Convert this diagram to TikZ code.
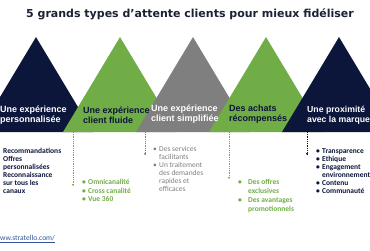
\documentclass[tikz,border=0pt]{standalone}
\usepackage{fontspec}
\setmainfont{Carlito}
\newfontfamily\labfont{Liberation Sans}
\newfontfamily\titlefont{DejaVu Sans}
\usetikzlibrary{arrows.meta}
\definecolor{navy}{HTML}{0B163A}
\definecolor{leaf}{HTML}{70AD47}
\definecolor{slate}{HTML}{7F7F7F}
\definecolor{linkblue}{HTML}{2F5597}
\definecolor{titlecol}{HTML}{1B2233}
\newcommand\bl[1][6pt]{\makebox[#1][l]{\textbullet}}
\begin{document}
\begin{tikzpicture}[x=1pt,y=-1pt,
  lab/.style={font=\labfont\bfseries\fontsize{9}{10}\selectfont, align=left, inner sep=0pt, anchor=west},
  lst/.style={font=\fontsize{7.5}{8}\selectfont, align=left, inner sep=0pt, anchor=north west},
  conn/.style={dash pattern=on 0.8pt off 1pt, line width=0.7pt, -{Stealth[length=2.2pt,width=2.4pt]}}]
\useasboundingbox (0,0) rectangle (370,250);
\clip (0,0) rectangle (370,250);
% triangles
\fill[navy]  (36,37)  -- (93,132)  -- (-21,132) -- cycle;
\fill[leaf]  (120,37) -- (177,132) -- (63,132)  -- cycle;
\fill[slate] (193,37) -- (250,132) -- (136,132) -- cycle;
\fill[leaf]  (266,37) -- (323,132) -- (209,132) -- cycle;
\fill[navy]  (339,37) -- (396,132) -- (282,132) -- cycle;
% title
\node[font=\titlefont\bfseries\fontsize{11}{13}\selectfont, text=titlecol, inner sep=0pt] (title) at (190,14) {5 grands types d’attente clients pour mieux fidéliser};
% triangle labels
\node[lab, text=white] (l1) at (0,115) {Une expérience\\personnalisée};
\node[lab, text=navy]  (l2) at (83,115) {Une expérience\\client fluide};
\node[lab, text=white] (l3) at (151,114.5) {Une expérience\\client simplifiée};
\node[lab, text=navy]  (l4) at (229,114) {Des achats\\récompensés};
\node[lab, text=white, font=\labfont\bfseries\fontsize{8.7}{10}\selectfont] (l5) at (307,115.5) {Une proximité\\avec la marque};
% lists
\node[lst, text=navy, font=\bfseries\fontsize{7.5}{8}\selectfont] (d1) at (3,148.5)
  {Recommandations\\Offres\\personnalisées\\Reconnaissance\\sur tous les\\canaux};
\node[lst, text=leaf, font=\bfseries\fontsize{7.5}{8.5}\selectfont] (d2) at (82,179.5)
  {\bl Omnicanalité\\\bl Cross canalité\\\bl Vue 360};
\node[lst, text=slate] (d3) at (153,146.5)
  {\bl Des services\\\hphantom{\bl}facilitants\\\bl Un traitement\\\hphantom{\bl}des demandes\\\hphantom{\bl}rapides et\\\hphantom{\bl}efficaces};
\node[lst, text=leaf, font=\bfseries\fontsize{7.5}{8.7}\selectfont] (d4) at (238,179.5)
  {\bl[10pt]Des offres\\\hphantom{\bl[10pt]}exclusives\\\bl[10pt]Des avantages\\\hphantom{\bl[10pt]}promotionnels};
\node[lst, text=navy, font=\bfseries\fontsize{7.5}{8}\selectfont] (d5) at (316,148.5)
  {\bl Transparence\\\bl Ethique\\\bl Engagement\\\hphantom{\bl}environnement\\\bl Contenu\\\bl Communauté};
% url
\node[font=\fontsize{7.5}{9}\selectfont, text=linkblue, inner sep=0pt, anchor=west] (url) at (0,239) {\underline{ww.stratello.com/}};
% connectors
\coordinate (s1) at (73,132);  \coordinate (e1) at (73,186);
\coordinate (s2) at (145,132); \coordinate (e2) at (145,155);
\coordinate (s3) at (229,132); \coordinate (e3) at (229,179);
\coordinate (s4) at (307,132); \coordinate (e4) at (307,155);
\draw[conn, leaf]  (s1) -- (e1);
\draw[conn, slate] (s2) -- (e2);
\draw[conn, leaf]  (s3) -- (e3);
\draw[conn, navy]  (s4) -- (e4);
\end{tikzpicture}
\end{document}
